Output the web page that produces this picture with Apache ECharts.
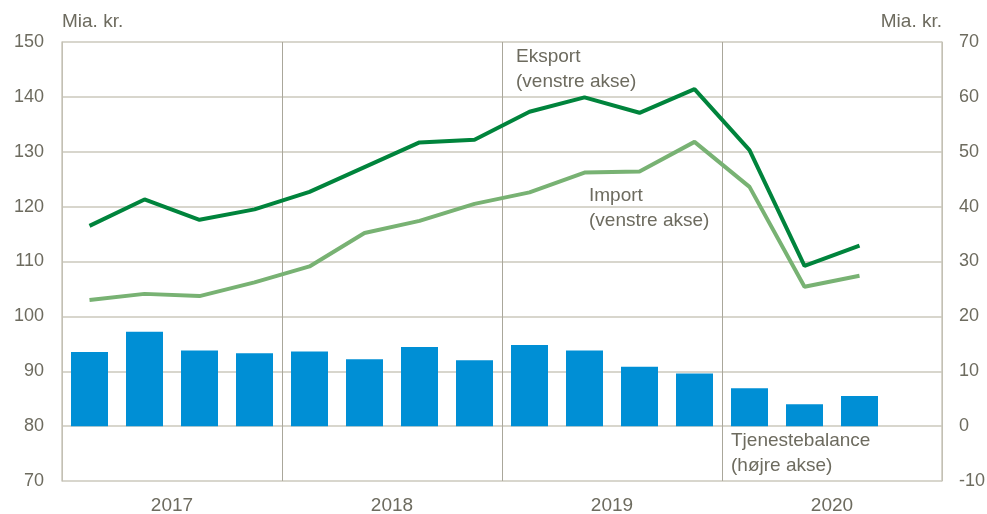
<!DOCTYPE html>
<html>
<head>
<meta charset="utf-8">
<script src="https://cdn.jsdelivr.net/npm/echarts@6/dist/echarts.min.js"></script>
<style>
  html, body { margin: 0; padding: 0; background: #fff; }
  #chart { width: 987px; height: 514px; }
</style>
</head>
<body>
<div id="chart"></div>
<script>
// kvartaler 2017K1 - 2020K4 (sidste kvartal uden data)
const quarters = ['2017K1','2017K2','2017K3','2017K4','2018K1','2018K2','2018K3','2018K4',
  '2019K1','2019K2','2019K3','2019K4','2020K1','2020K2','2020K3','2020K4']
const years = ['2017', '2018', '2019', '2020']
const eksport = [116.5, 121.3, 117.6, 119.5, 122.7, 127.2, 131.7, 132.2, 137.3, 139.9, 137.1, 141.4, 130.3, 109.2, 112.9, null]
const importVals = [103.0, 104.1, 103.7, 106.2, 109.1, 115.2, 117.4, 120.5, 122.6, 126.2, 126.4, 131.8, 123.6, 105.4, 107.4, null]
const tjenestebalance = [13.5, 17.2, 13.8, 13.3, 13.6, 12.2, 14.4, 12.0, 14.8, 13.8, 10.8, 9.6, 6.9, 4.0, 5.5, null]

const textColor = '#6d6b5f'
const gridColor = '#cbc8bd'
const font = "'Liberation Sans', Arial, sans-serif"
const fs = 19

var chartDom = document.getElementById('chart')
var myChart = echarts.init(chartDom)

var option = {
  animation: false,
  textStyle: { fontFamily: font },
  grid: { left: 62, right: 45, top: 42, bottom: 33, outerBoundsMode: 'none' },
  xAxis: [
    {
      type: 'category',
      data: quarters,
      axisLabel: { show: false },
      axisTick: { show: false },
      axisLine: { show: false },
    },
    {
      type: 'category',
      data: years,
      position: 'bottom',
      boundaryGap: true,
      axisLabel: { color: textColor, fontSize: fs, fontFamily: font, margin: 15 },
      axisTick: { show: false },
      axisLine: { show: false },
      splitLine: { show: true, lineStyle: { color: '#aaa79b', width: 1 } },
    },
  ],
  yAxis: [
    {
      type: 'value',
      min: 70,
      max: 150,
      interval: 10,
      name: 'Mia. kr.',
      nameGap: 11,
      nameTextStyle: { color: textColor, fontSize: fs, fontFamily: font, align: 'left' },
      axisLabel: { color: textColor, fontSize: 18, fontFamily: font, margin: 18 },
      axisLine: { show: true, lineStyle: { color: gridColor, width: 1.5 } },
      axisTick: { show: false },
      splitLine: { lineStyle: { color: gridColor, width: 1.5 } },
    },
    {
      type: 'value',
      min: -10,
      max: 70,
      interval: 10,
      position: 'right',
      name: 'Mia. kr.',
      nameGap: 11,
      nameTextStyle: { color: textColor, fontSize: fs, fontFamily: font, align: 'right' },
      axisLabel: { color: textColor, fontSize: 18, fontFamily: font, margin: 17 },
      axisLine: { show: true, lineStyle: { color: gridColor, width: 1.5 } },
      axisTick: { show: false },
      splitLine: { show: false },
    },
  ],
  series: [
    {
      name: 'Tjenestebalance',
      type: 'bar',
      xAxisIndex: 0,
      yAxisIndex: 1,
      data: tjenestebalance,
      barWidth: 37,
      itemStyle: { color: '#008fd5' },
    },
    {
      name: 'Import',
      type: 'line',
      xAxisIndex: 0,
      yAxisIndex: 0,
      data: importVals,
      symbol: 'none',
      lineStyle: { color: '#78b273', width: 4 },
    },
    {
      name: 'Eksport',
      type: 'line',
      xAxisIndex: 0,
      yAxisIndex: 0,
      data: eksport,
      symbol: 'none',
      lineStyle: { color: '#00843c', width: 4 },
    },
  ],
  graphic: [
    {
      type: 'text', left: 516, top: 44,
      style: { text: 'Eksport\n(venstre akse)', fill: textColor, font: fs + 'px ' + font, lineHeight: 25 },
    },
    {
      type: 'text', left: 589, top: 183,
      style: { text: 'Import\n(venstre akse)', fill: textColor, font: fs + 'px ' + font, lineHeight: 25 },
    },
    {
      type: 'text', left: 731, top: 428,
      style: { text: 'Tjenestebalance\n(højre akse)', fill: textColor, font: fs + 'px ' + font, lineHeight: 25 },
    },
  ],
}
option && myChart.setOption(option)
window.onresize = () => {
  myChart.resize()
}
</script>
</body>
</html>
